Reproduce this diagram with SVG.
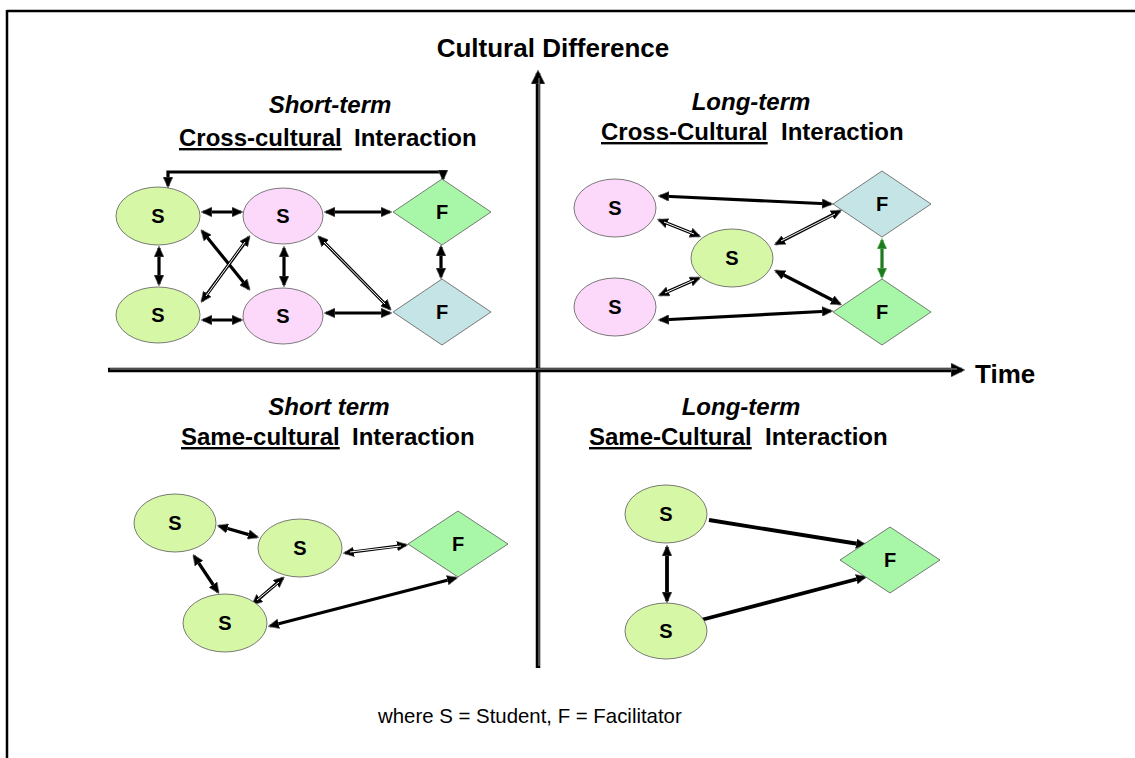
<svg xmlns="http://www.w3.org/2000/svg" width="1135" height="758" viewBox="0 0 1135 758">
  <style>
    text { font-family: "Liberation Sans", Arial, sans-serif; fill: #000; }
    .axis-label { font-size: 26px; font-weight: bold; }
    .q-title { font-size: 24px; font-weight: bold; }
    .q-italic { font-size: 24px; font-weight: bold; font-style: italic; text-anchor: middle; }
    .node-label { font-size: 20px; font-weight: bold; text-anchor: middle; }
    .note { font-size: 20.4px; }
    .s-green { fill: #d6f7a6; stroke: #5a5a5a; stroke-width: 0.8; }
    .s-pink { fill: #fcd9fb; stroke: #5a5a5a; stroke-width: 0.8; }
    .f-green { fill: #a8f7a8; stroke: #5a5a5a; stroke-width: 0.8; }
    .f-blue { fill: #c5e4e6; stroke: #5a5a5a; stroke-width: 0.8; }
    .link { fill: none; stroke: #000; stroke-width: 3.2; marker-start: url(#head); marker-end: url(#head); }
    .link-one { fill: none; stroke: #000; stroke-width: 3.8; marker-end: url(#head); }
    .link-green { fill: none; stroke: #1d7a1d; stroke-width: 3.2; marker-start: url(#head-green); marker-end: url(#head-green); }
    .hl { fill: none; stroke: #ffffff; stroke-width: 1; }
    .axis { fill: none; stroke: #000; stroke-width: 4.5; }
    .axis-hl { fill: none; stroke: #9a9a9a; stroke-width: 1; }
  </style>
  <defs>
    <marker id="head" viewBox="0 0 11 10" refX="9" refY="5" markerWidth="11" markerHeight="10" markerUnits="userSpaceOnUse" orient="auto-start-reverse">
      <path d="M0,0 L11,5 L0,10 Z" fill="#000" stroke="#777" stroke-width="0.6"/>
    </marker>
    <marker id="head-green" viewBox="0 0 11 10" refX="9" refY="5" markerWidth="11" markerHeight="10" markerUnits="userSpaceOnUse" orient="auto-start-reverse">
      <path d="M0,0 L11,5 L0,10 Z" fill="#1d7a1d" stroke="#9fd89f" stroke-width="0.6"/>
    </marker>
    <marker id="axis-head" viewBox="0 0 14 14" refX="11" refY="7" markerWidth="14" markerHeight="14" markerUnits="userSpaceOnUse" orient="auto">
      <path d="M0,0 L14,7 L0,14 Z" fill="#000" stroke="#777" stroke-width="0.6"/>
    </marker>
  </defs>

  <!-- frame (top and left edges) -->
  <g id="frame" stroke="#000" stroke-width="2.5" fill="none">
    <line x1="7" y1="11" x2="1135" y2="11"/>
    <line x1="7" y1="10" x2="7" y2="758"/>
  </g>

  <!-- axes -->
  <g id="axes">
    <line class="axis" x1="538" y1="668" x2="538" y2="73" marker-end="url(#axis-head)"/>
    <line class="axis-hl" x1="539" y1="666" x2="539" y2="78"/>
    <line class="axis" x1="108" y1="370" x2="962" y2="370" marker-end="url(#axis-head)"/>
    <line class="axis-hl" x1="110" y1="369" x2="957" y2="369"/>
    <text class="axis-label" x="553" y="57" text-anchor="middle">Cultural Difference</text>
    <text class="axis-label" x="975" y="383">Time</text>
  </g>

  <!-- quadrant titles -->
  <g id="titles">
    <text class="q-italic" x="330" y="113">Short-term</text>
    <text class="q-title" y="146"><tspan x="179" text-decoration="underline">Cross-cultural</tspan><tspan x="354">Interaction</tspan></text>
    <text class="q-italic" x="751" y="110">Long-term</text>
    <text class="q-title" y="140"><tspan x="601" text-decoration="underline">Cross-Cultural</tspan><tspan x="781">Interaction</tspan></text>
    <text class="q-italic" x="329" y="415">Short term</text>
    <text class="q-title" y="445"><tspan x="181" text-decoration="underline">Same-cultural</tspan><tspan x="352">Interaction</tspan></text>
    <text class="q-italic" x="741" y="415">Long-term</text>
    <text class="q-title" y="445"><tspan x="589" text-decoration="underline">Same-Cultural</tspan><tspan x="765">Interaction</tspan></text>
  </g>

  <!-- connectors -->
  <g id="connectors">
    <!-- short-term cross-cultural -->
    <path class="link" d="M168,186 L168,172 L443,172 L443,179"/>
    <path class="link" d="M203,212 L241,212"/>
    <path class="link" d="M326,212 L390,212"/>
    <path class="link" d="M159,248 L159,284"/>
    <path class="link" d="M284,248 L284,285"/>
    <path class="link" d="M441,247 L441,277"/>
    <path class="link" d="M203,320 L241,320"/>
    <path class="link" d="M326,313 L390,313"/>
    <path class="link" d="M202,231 L249,289"/>
    <path class="link" d="M202,301 L249,237"/>
    <path class="hl" d="M206,296 L245,242"/>
    <path class="link" d="M319,237 L390,309"/>
    <path class="hl" d="M324,242 L385,304"/>
    <!-- long-term cross-cultural -->
    <path class="link" d="M660,196 L831,204"/>
    <path class="link" d="M659,220 L699,236"/>
    <path class="hl" d="M664,222 L694,234"/>
    <path class="link" d="M776,244 L840,211"/>
    <path class="hl" d="M781,241 L835,214"/>
    <path class="link-green" d="M882,240 L882,277"/>
    <path class="link" d="M660,295 L699,278"/>
    <path class="hl" d="M665,293 L694,280"/>
    <path class="link" d="M776,271 L840,304"/>
    <path class="link" d="M660,320 L831,311"/>
    <!-- short-term same-cultural -->
    <path class="link" d="M219,526 L257,537"/>
    <path class="link" d="M194,556 L218,592"/>
    <path class="link" d="M253,604 L283,578"/>
    <path class="hl" d="M257,600 L279,582"/>
    <path class="link" d="M345,553 L406,545"/>
    <path class="hl" d="M350,552 L401,546"/>
    <path class="link" d="M270,626 L456,578"/>
    <!-- long-term same-cultural -->
    <path class="link-one" d="M709,520 L865,545"/>
    <path class="link-one" d="M701,620 L865,577"/>
    <path class="link" style="stroke-width:3.8" d="M667,547 L667,601"/>
  </g>

  <!-- nodes: short-term cross-cultural -->
  <g id="tl-s1"><ellipse class="s-green" cx="158" cy="216" rx="42" ry="29"/><text class="node-label" x="158" y="223">S</text></g>
  <g id="tl-s2"><ellipse class="s-pink" cx="283" cy="216" rx="40" ry="28"/><text class="node-label" x="283" y="223">S</text></g>
  <g id="tl-f1"><polygon class="f-green" points="393,212 442,179 491,212 442,245"/><text class="node-label" x="442" y="219">F</text></g>
  <g id="tl-s3"><ellipse class="s-green" cx="158" cy="315" rx="42" ry="28"/><text class="node-label" x="158" y="322">S</text></g>
  <g id="tl-s4"><ellipse class="s-pink" cx="283" cy="316" rx="40" ry="28"/><text class="node-label" x="283" y="323">S</text></g>
  <g id="tl-f2"><polygon class="f-blue" points="393,312 442,279 491,312 442,345"/><text class="node-label" x="442" y="319">F</text></g>

  <!-- nodes: long-term cross-cultural -->
  <g id="tr-s1"><ellipse class="s-pink" cx="615" cy="208" rx="41" ry="29"/><text class="node-label" x="615" y="215">S</text></g>
  <g id="tr-s2"><ellipse class="s-green" cx="732" cy="258" rx="41" ry="29"/><text class="node-label" x="732" y="265">S</text></g>
  <g id="tr-s3"><ellipse class="s-pink" cx="615" cy="307" rx="41" ry="29"/><text class="node-label" x="615" y="314">S</text></g>
  <g id="tr-f1"><polygon class="f-blue" points="833,204 882,171 931,204 882,237"/><text class="node-label" x="882" y="211">F</text></g>
  <g id="tr-f2"><polygon class="f-green" points="833,312 882,279 931,312 882,345"/><text class="node-label" x="882" y="319">F</text></g>

  <!-- nodes: short-term same-cultural -->
  <g id="bl-s1"><ellipse class="s-green" cx="175" cy="523" rx="41" ry="29"/><text class="node-label" x="175" y="530">S</text></g>
  <g id="bl-s2"><ellipse class="s-green" cx="300" cy="548" rx="42" ry="29"/><text class="node-label" x="300" y="555">S</text></g>
  <g id="bl-s3"><ellipse class="s-green" cx="225" cy="623" rx="42" ry="29"/><text class="node-label" x="225" y="630">S</text></g>
  <g id="bl-f"><polygon class="f-green" points="408,544 458,511 508,544 458,577"/><text class="node-label" x="458" y="551">F</text></g>

  <!-- nodes: long-term same-cultural -->
  <g id="br-s1"><ellipse class="s-green" cx="666" cy="514" rx="41" ry="29"/><text class="node-label" x="666" y="521">S</text></g>
  <g id="br-s2"><ellipse class="s-green" cx="666" cy="631" rx="41" ry="28"/><text class="node-label" x="666" y="638">S</text></g>
  <g id="br-f"><polygon class="f-green" points="840,560 890,527 940,560 890,593"/><text class="node-label" x="890" y="567">F</text></g>

  <!-- legend -->
  <g id="legend">
    <text class="note" x="378" y="723">where S = Student, F = Facilitator</text>
  </g>
</svg>
